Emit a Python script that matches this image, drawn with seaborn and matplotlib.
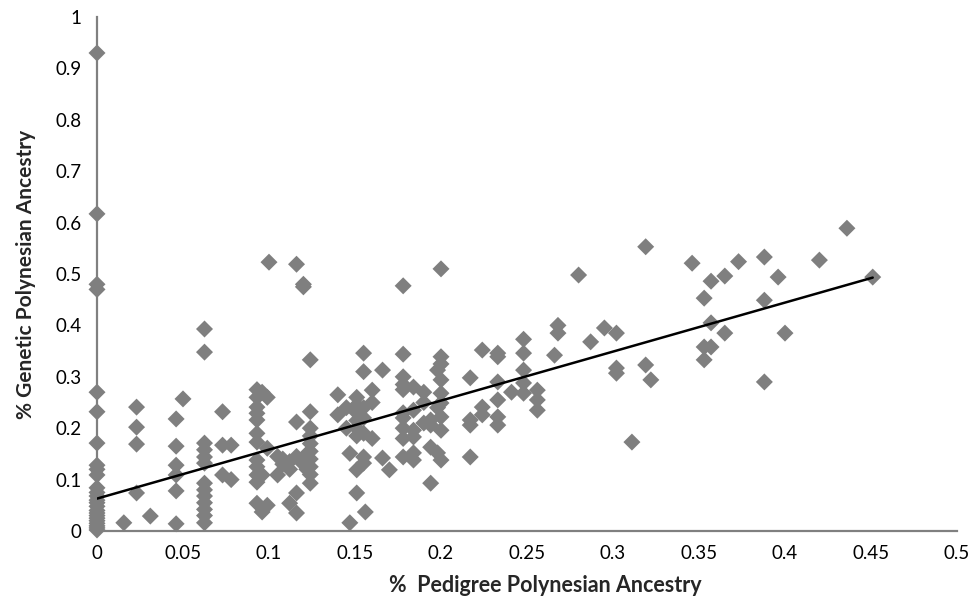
import numpy as np
import pandas as pd
import matplotlib
matplotlib.use("Agg")
import matplotlib.pyplot as plt
import seaborn as sns

# ---- data (x: pedigree, y: genetic) ----
x_cols = [0.0, 0.0156, 0.023, 0.031, 0.046, 0.05, 0.0625, 0.073, 0.078, 0.093,
          0.096, 0.099, 0.1, 0.105, 0.108, 0.112, 0.116, 0.12, 0.122, 0.124,
          0.14, 0.145, 0.147, 0.151, 0.155, 0.156, 0.16, 0.166, 0.17, 0.178,
          0.184, 0.19, 0.194, 0.198, 0.2, 0.217, 0.224, 0.233, 0.241, 0.248,
          0.256, 0.266, 0.268, 0.28, 0.287, 0.295, 0.302, 0.311, 0.319, 0.322,
          0.346, 0.353, 0.357, 0.365, 0.373, 0.388, 0.396, 0.4, 0.42, 0.436, 0.451]
y_groups = [
    [0.93, 0.617, 0.48, 0.47, 0.27, 0.232, 0.171, 0.128, 0.12, 0.109, 0.084, 0.075,
     0.068, 0.06, 0.055, 0.048, 0.04, 0.035, 0.03, 0.025, 0.02, 0.015, 0.01, 0.006, 0.002],
    [0.016],
    [0.241, 0.202, 0.169, 0.074],
    [0.029],
    [0.218, 0.165, 0.128, 0.109, 0.078, 0.014],
    [0.257],
    [0.393, 0.348, 0.171, 0.158, 0.144, 0.132, 0.093, 0.08, 0.068, 0.055, 0.042, 0.03, 0.016],
    [0.232, 0.167, 0.109],
    [0.167, 0.1],
    [0.275, 0.26, 0.241, 0.229, 0.216, 0.19, 0.173, 0.138, 0.125, 0.109, 0.095, 0.054],
    [0.27, 0.109, 0.037],
    [0.26, 0.161, 0.05],
    [0.523],
    [0.109, 0.145],
    [0.14, 0.13],
    [0.054, 0.135, 0.12],
    [0.519, 0.212, 0.074, 0.035, 0.145],
    [0.48, 0.475, 0.13, 0.14],
    [0.12, 0.15],
    [0.333, 0.232, 0.2, 0.185, 0.17, 0.155, 0.14, 0.125, 0.11, 0.093],
    [0.265, 0.226],
    [0.24, 0.2],
    [0.151, 0.016],
    [0.26, 0.245, 0.23, 0.215, 0.2, 0.185, 0.119, 0.074],
    [0.346, 0.31, 0.24, 0.22, 0.19, 0.144, 0.132],
    [0.037],
    [0.274, 0.25, 0.18],
    [0.313, 0.142],
    [0.119],
    [0.477, 0.344, 0.3, 0.285, 0.275, 0.23, 0.22, 0.2, 0.18, 0.144],
    [0.28, 0.235, 0.196, 0.183, 0.152, 0.138],
    [0.27, 0.25, 0.21],
    [0.216, 0.206, 0.163, 0.093],
    [0.313, 0.152, 0.24],
    [0.51, 0.339, 0.325, 0.294, 0.268, 0.249, 0.222, 0.196, 0.138],
    [0.298, 0.216, 0.206, 0.144],
    [0.352, 0.241, 0.226],
    [0.346, 0.339, 0.29, 0.255, 0.222, 0.206],
    [0.27],
    [0.373, 0.346, 0.313, 0.288, 0.268],
    [0.274, 0.255, 0.235],
    [0.342],
    [0.4, 0.385],
    [0.498],
    [0.368],
    [0.395],
    [0.385, 0.317, 0.307],
    [0.173],
    [0.553, 0.323],
    [0.294],
    [0.521],
    [0.453, 0.358, 0.333],
    [0.486, 0.405, 0.358],
    [0.496, 0.385],
    [0.524],
    [0.533, 0.449, 0.29],
    [0.494],
    [0.385],
    [0.527],
    [0.589],
    [0.494],
]
trend_x = [0.0, 0.451]
trend_y = [0.063, 0.493]

x_ticks = [0, 0.05, 0.1, 0.15, 0.2, 0.25, 0.3, 0.35, 0.4, 0.45, 0.5]
x_tick_labels = ["0", "0.05", "0.1", "0.15", "0.2", "0.25", "0.3", "0.35", "0.4", "0.45", "0.5"]
y_ticks = [0, 0.1, 0.2, 0.3, 0.4, 0.5, 0.6, 0.7, 0.8, 0.9, 1.0]
y_tick_labels = ["0", "0.1", "0.2", "0.3", "0.4", "0.5", "0.6", "0.7", "0.8", "0.9", "1"]

xs, ys = [], []
for xv, grp in zip(x_cols, y_groups):
    for yv in grp:
        xs.append(xv)
        ys.append(yv)
df = pd.DataFrame({"pedigree": xs, "genetic": ys})

sns.set_theme(style="white")
plt.rcParams["font.family"] = ["Lato", "DejaVu Sans"]

fig = plt.figure(figsize=(9.73, 5.99), dpi=100)
ax = fig.add_axes([97 / 973, 1 - 531 / 599, (957 - 97) / 973, (531 - 17) / 599])

sns.scatterplot(data=df, x="pedigree", y="genetic", marker="D", s=75,
                color="#7f7f7f", edgecolor="none", linewidth=0, ax=ax, zorder=3,
                clip_on=False)
sns.lineplot(x=trend_x, y=trend_y, color="black", linewidth=1.8, ax=ax, zorder=4)

ax.set_xlim(0, 0.5)
ax.set_ylim(0, 1)
ax.set_xticks(x_ticks)
ax.set_xticklabels(x_tick_labels)
ax.set_yticks(y_ticks)
ax.set_yticklabels(y_tick_labels)
ax.tick_params(axis="both", which="major", direction="out", length=6, width=1.3,
               color="#808080", labelsize=13.5, labelcolor="black")
ax.tick_params(axis="x", pad=4)
ax.tick_params(axis="y", pad=5)
for side in ["top", "right"]:
    ax.spines[side].set_visible(False)
for side in ["left", "bottom"]:
    ax.spines[side].set_color("#808080")
    ax.spines[side].set_linewidth(1.6)

ax.set_xlabel("%  Pedigree Polynesian Ancestry", fontsize=15.5, fontweight="bold", labelpad=8)
ax.xaxis.set_label_coords(0.521, -0.086)
ax.set_ylabel("% Genetic Polynesian Ancestry", fontsize=15, fontweight="bold", labelpad=14)
ax.grid(False)

fig.savefig("out.png", dpi=100, facecolor="white")
